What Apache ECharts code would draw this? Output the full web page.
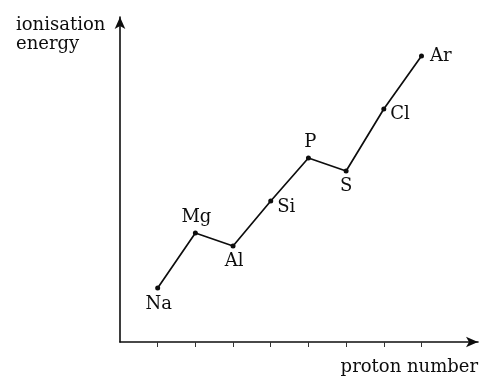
<!DOCTYPE html>
<html>
<head>
<meta charset="utf-8">
<script src="https://cdn.jsdelivr.net/npm/echarts@6/dist/echarts.min.js"></script>
<style>html,body{margin:0;padding:0;background:#fff}#c{width:490px;height:384px}</style>
</head>
<body>
<div id="c"></div>
<script>
// Data
var elements = ['Na', 'Mg', 'Al', 'Si', 'P', 'S', 'Cl', 'Ar'];
var protonIndex = [1, 2, 3, 4, 5, 6, 7, 8];
var ionisationEnergy = [54, 109, 96, 141, 184, 171, 233, 286];
var xTicks = [1, 2, 3, 4, 5, 6, 7, 8];
var yAxisTitle = 'ionisation\nenergy';
var xAxisTitle = 'proton number';

// Layout of point labels (not data)
var labelLayout = {
  Na: {position: 'bottom', offset: [1, 1]},
  Mg: {position: 'top', offset: [1, 0]},
  Al: {position: 'bottom', offset: [1, 0]},
  Si: {position: 'right', offset: [0, 6]},
  P: {position: 'top', offset: [2, 0]},
  S: {position: 'bottom', offset: [0, 0]},
  Cl: {position: 'right', offset: [0, 5]},
  Ar: {position: 'right', offset: [2, 0]}
};

var FONT = 'DejaVu Serif';
var INK = '#0d0d0d';

var seriesData = elements.map(function (name, i) {
  var l = labelLayout[name];
  return {
    name: name,
    value: [protonIndex[i], ionisationEnergy[i]],
    label: {position: l.position, offset: l.offset}
  };
});

var chart = echarts.init(document.getElementById('c'), null, {renderer: 'canvas'});
chart.setOption({
  animation: false,
  backgroundColor: '#fff',
  grid: {left: 120, right: 12, top: 17, bottom: 42},
  xAxis: {
    type: 'value', min: 0, max: 9.5,
    axisLine: {show: true, symbol: ['none', 'arrow'], symbolSize: [8, 12],
      lineStyle: {color: INK, width: 1.6}},
    axisTick: {show: true, customValues: xTicks, length: 5, inside: false,
      lineStyle: {color: '#333', width: 1}},
    axisLabel: {show: false},
    splitLine: {show: false}
  },
  yAxis: {
    type: 'value', min: 0, max: 325,
    axisLine: {show: true, symbol: ['none', 'arrow'], symbolSize: [8, 12],
      lineStyle: {color: INK, width: 1.6}},
    axisTick: {show: false},
    axisLabel: {show: false},
    splitLine: {show: false}
  },
  graphic: [
    {type: 'text', left: 16, top: 16,
      style: {text: yAxisTitle, font: '18px "' + FONT + '"', fill: INK, lineHeight: 19}},
    {type: 'text', right: 12, top: 358,
      style: {text: xAxisTitle, font: '18px "' + FONT + '"', fill: INK}}
  ],
  series: [{
    type: 'line',
    data: seriesData,
    symbol: 'circle',
    symbolSize: 5,
    itemStyle: {color: INK},
    lineStyle: {color: INK, width: 1.7},
    label: {show: true, formatter: '{b}', fontFamily: FONT, fontSize: 18, color: INK, distance: 4}
  }]
});
</script>
</body>
</html>
